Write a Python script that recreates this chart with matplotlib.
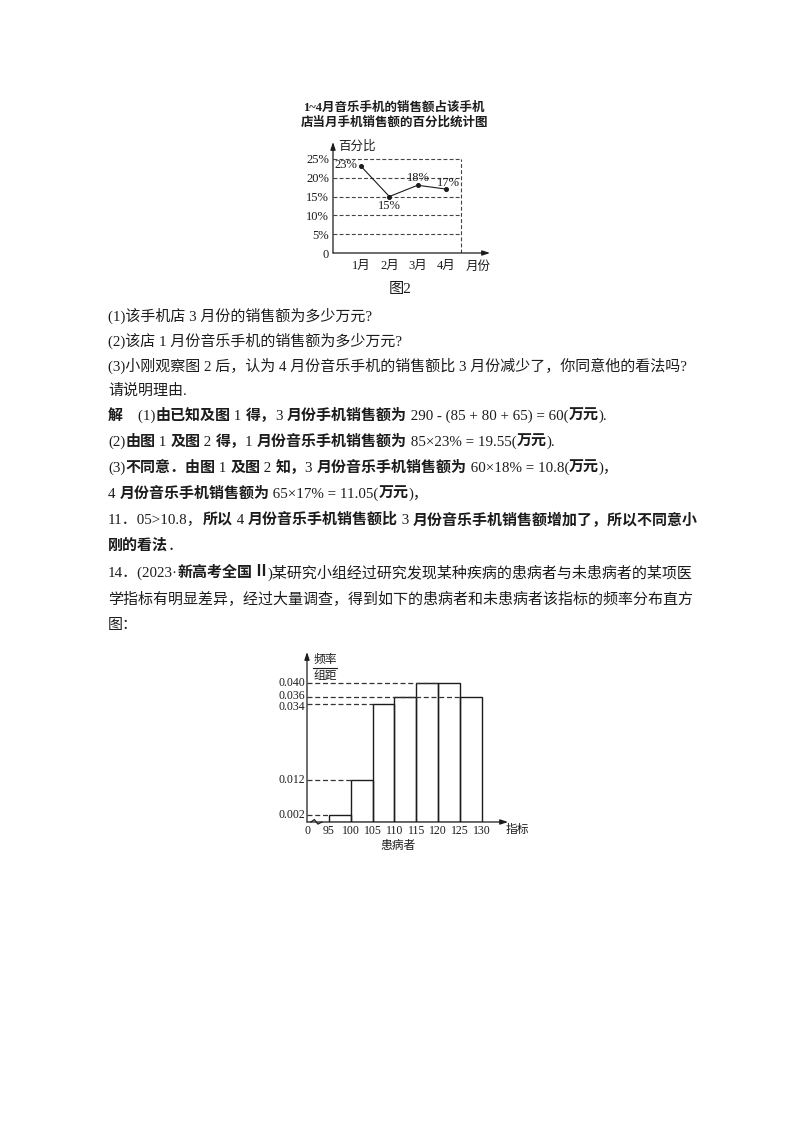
import matplotlib
matplotlib.use("Agg")
import matplotlib.pyplot as plt

# ---------------- data ----------------
months = ["1月", "2月", "3月", "4月"]
month_pos = [1, 2, 3, 4]
pct_values = [23, 15, 18, 17]
pct_labels = ["23%", "15%", "18%", "17%"]
pct_ticks = [0, 5, 10, 15, 20, 25]
pct_ticklabels = ["0", "5%", "10%", "15%", "20%", "25%"]

bin_edges = [95, 100, 105, 110, 115, 120, 125, 130]
freq_heights = [0.002, 0.012, 0.034, 0.036, 0.040, 0.040, 0.036]
x_ticks = [90, 95, 100, 105, 110, 115, 120, 125, 130]
x_ticklabels = ["0", "95", "100", "105", "110", "115", "120", "125", "130"]
y_levels = [0.040, 0.036, 0.034, 0.012, 0.002]
y_levelabels = ["0.040", "0.036", "0.034", "0.012", "0.002"]

W, H = 800, 1132
FAM = ["Liberation Serif", "Noto Sans CJK SC", "DejaVu Sans"]
CJK = ["Noto Sans CJK SC", "DejaVu Sans"]
INK = "#1c1c1c"

plt.rcParams["font.family"] = FAM
fig = plt.figure(figsize=(W / 100, H / 100), dpi=100)
fig.patch.set_facecolor("white")

bg = fig.add_axes([0, 0, 1, 1])
bg.set_xlim(0, W)
bg.set_ylim(H, 0)
bg.axis("off")


def px_axes(l, r, t, b):
    return fig.add_axes([l / W, 1 - b / H, (r - l) / W, (b - t) / H])


def arrow(ax, x0, y0, x1, y1):
    ax.annotate("", xy=(x1, y1), xytext=(x0, y0),
                arrowprops=dict(arrowstyle="-|>,head_length=0.45,head_width=0.15",
                                color=INK, lw=0.9, shrinkA=0, shrinkB=0),
                annotation_clip=False)


# ---------------- chart 1 (line chart) ----------------
bg.text(394, 108, "1~4月音乐手机的销售额占该手机", ha="center", va="center",
        fontsize=9, family=FAM, weight="bold", color=INK)
bg.text(394, 123, "店当月手机销售额的百分比统计图", ha="center", va="center",
        fontsize=9, family=FAM, weight="bold", color=INK)

ax1 = px_axes(333, 490, 142, 253)
ax1.set_xlim(0, 5.57)
ax1.set_ylim(0, 29.5)
for s in ax1.spines.values():
    s.set_visible(False)
ax1.patch.set_alpha(0)
box_right = 4.54
for v in pct_ticks[1:]:
    ax1.plot([0, box_right], [v, v], ls=(0, (3.5, 2)), color="#444", lw=0.8)
ax1.plot([box_right, box_right], [0, pct_ticks[-1]], ls=(0, (3.5, 2)), color="#444", lw=0.8)
arrow(ax1, 0, 0, 5.57, 0)
arrow(ax1, 0, 0, 0, 29.5)
ax1.plot(month_pos, pct_values, color=INK, lw=0.8, marker="o", ms=2.6)
ax1.set_yticks(pct_ticks)
ax1.set_yticklabels(pct_ticklabels, fontsize=9, color=INK)
ax1.set_xticks(month_pos)
ax1.set_xticklabels(months, fontsize=9, color=INK)
ax1.tick_params(length=0, pad=3)
ax1.tick_params(axis="x", pad=5)
offsets = [(-15, 1), (0, -9), (1, 7), (3, 6)]
for xm, v, lab, off in zip(month_pos, pct_values, pct_labels, offsets):
    ax1.annotate(lab, (xm, v), xytext=off, textcoords="offset pixels",
                 ha="center", va="center", fontsize=9, color=INK)
bg.text(338, 146, "百分比", ha="left", va="center", fontsize=9, family=CJK, color=INK)
bg.text(478, 266, "月份", ha="center", va="center", fontsize=9, family=CJK, color=INK)
bg.text(400, 289, "图2", ha="center", va="center", fontsize=11, family=FAM, color=INK)

# ---------------- body text ----------------
renderer = fig.canvas.get_renderer()
TS = 10.8


def line(x, y, segs):
    for txt, wt in segs:
        t = bg.text(x, y, txt, ha="left", va="center", fontsize=TS, family=FAM,
                    weight=wt, color=INK)
        x += t.get_window_extent(renderer).width


N, B = "normal", "bold"
lines = [
    (316, [("(1)该手机店 3 月份的销售额为多少万元?", N)]),
    (341, [("(2)该店 1 月份音乐手机的销售额为多少万元?", N)]),
    (366, [("(3)小刚观察图 2 后，认为 4 月份音乐手机的销售额比 3 月份减少了，你同意他的看法吗?", N)]),
    (391, [("请说明理由.", N)]),
    (416, [("解", B), ("　(1)", N), ("由已知及图", B), (" 1 ", N), ("得，", B), ("3 ", N),
           ("月份手机销售额为", B), (" 290 - (85 + 80 + 65) = 60(", N), ("万元", B), (").", N)]),
    (442, [("(2)", N), ("由图", B), (" 1 ", N), ("及图", B), (" 2 ", N), ("得，", B), ("1 ", N),
           ("月份音乐手机销售额为", B), (" 85×23% = 19.55(", N), ("万元", B), (").", N)]),
    (468, [("(3)", N), ("不同意．由图", B), (" 1 ", N), ("及图", B), (" 2 ", N), ("知，", B), ("3 ", N),
           ("月份音乐手机销售额为", B), (" 60×18% = 10.8(", N), ("万元", B), (")，", N)]),
    (494, [("4 ", N), ("月份音乐手机销售额为", B), (" 65×17% = 11.05(", N), ("万元", B), (")，", N)]),
    (520, [("11．05>10.8，", N), ("所以", B), (" 4 ", N), ("月份音乐手机销售额比", B), (" 3 ", N),
           ("月份音乐手机销售额增加了，所以不同意小", B)]),
    (546, [("刚的看法", B), ("．", N)]),
    (573, [("14．(2023·", N), ("新高考全国", B), ("Ⅱ", B),
           (")某研究小组经过研究发现某种疾病的患病者与未患病者的某项医", N)]),
    (600, [("学指标有明显差异，经过大量调查，得到如下的患病者和未患病者该指标的频率分布直方", N)]),
    (626, [("图：", N)]),
]
for y, segs in lines:
    line(108, y, segs)

# ---------------- chart 2 (histogram) ----------------
ax2 = px_axes(307, 508, 652, 822)
ax2.set_xlim(90, 136)
ax2.set_ylim(0, 0.0489)
for s in ax2.spines.values():
    s.set_visible(False)
ax2.patch.set_alpha(0)
widths = [b - a for a, b in zip(bin_edges[:-1], bin_edges[1:])]
ax2.bar(bin_edges[:-1], freq_heights, width=widths, align="edge",
        fill=False, edgecolor=INK, lw=1.0)
for lv in y_levels:
    xend = max(bin_edges[i] for i, h in enumerate(freq_heights) if abs(h - lv) < 1e-9)
    ax2.plot([90, xend], [lv, lv], ls=(0, (4, 2.2)), color="#333", lw=0.9)
arrow(ax2, 90, 0, 136, 0)
arrow(ax2, 90, 0, 90, 0.0489)
# axis break mark
ax2.plot([90.9, 91.6, 92.6, 93.4], [0.0, 0.0007, -0.0006, 0.0], color="white", lw=2.5,
         solid_capstyle="butt", clip_on=False)
ax2.plot([90.9, 91.7, 92.5, 93.4], [0.0, 0.0007, -0.0006, 0.0], color=INK, lw=0.9,
         clip_on=False)
ax2.set_xticks(x_ticks)
ax2.set_xticklabels(x_ticklabels, fontsize=8.5, color=INK)
ax2.set_yticks([])
ax2.tick_params(length=0, pad=2)
lab_dy = [0, 1, -3, 0, 0]
for lv, lab, dy in zip(y_levels, y_levelabels, lab_dy):
    ax2.annotate(lab, (90, lv), xytext=(-2, dy), textcoords="offset pixels",
                 ha="right", va="center", fontsize=8.5, color=INK)
bg.text(325, 659, "频率", ha="center", va="center", fontsize=8.5, family=CJK, color=INK)
bg.plot([313, 337], [668, 668], color=INK, lw=0.8)
bg.text(325, 676, "组距", ha="center", va="center", fontsize=8.5, family=CJK, color=INK)
bg.text(517, 829, "指标", ha="center", va="center", fontsize=8.5, family=CJK, color=INK)
bg.text(398, 846, "患病者", ha="center", va="center", fontsize=8.5, family=CJK, color=INK)

fig.savefig("out.png", dpi=100, facecolor="white")
